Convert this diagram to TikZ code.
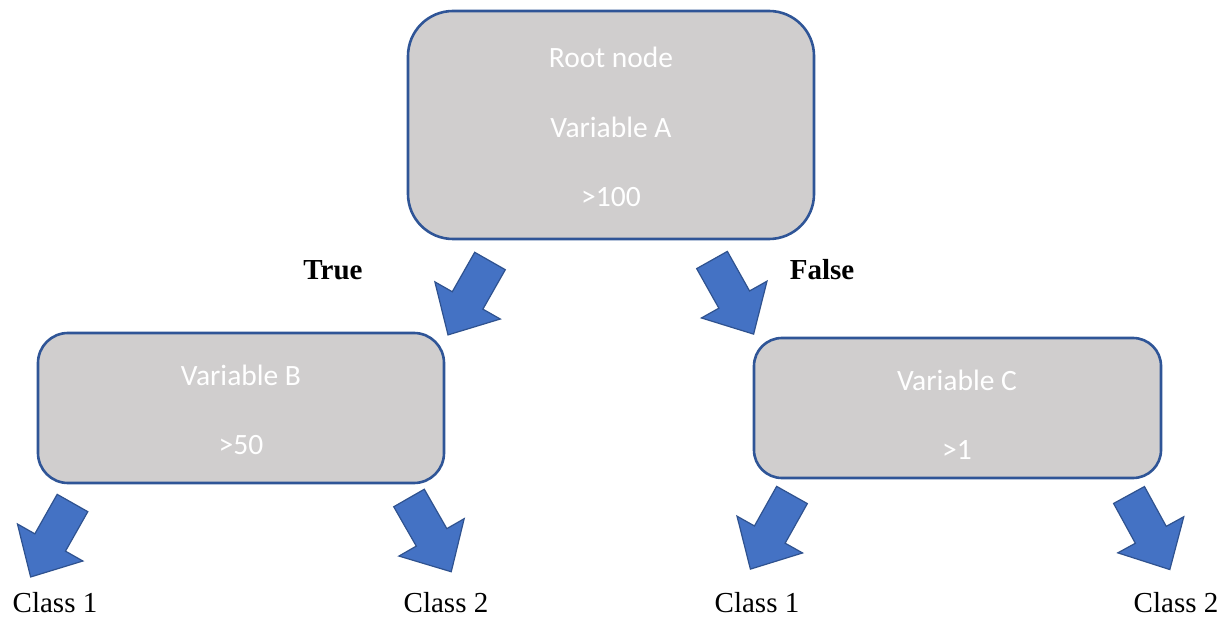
\documentclass[tikz,border=0pt]{standalone}
\usepackage{fontspec}
\setmainfont{Liberation Serif}
\newfontfamily\boxfont{Carlito}
\usetikzlibrary{shapes.arrows}
\definecolor{boxfill}{HTML}{D0CECE}
\definecolor{boxline}{HTML}{2F5597}
\definecolor{arrowfill}{HTML}{4472C4}
\definecolor{arrowline}{HTML}{2F528F}
\tikzset{
  treebox/.style={draw=boxline, fill=boxfill, line width=2.6pt, inner sep=0pt},
  boxtext/.style={text=white, font=\boxfont\fontsize{29.5}{35}\selectfont, inner sep=0pt},
  blockarrow/.style={single arrow, draw=arrowline, fill=arrowfill, line width=1.2pt,
    minimum height=85pt, minimum width=74pt, single arrow head extend=20pt,
    single arrow tip angle=87, single arrow head indent=0pt,
    inner xsep=0pt, inner ysep=17pt, text height=0pt, text depth=0pt,
    outer sep=0pt, anchor=tail},
  branchlabel/.style={font=\bfseries\fontsize{29}{34}\selectfont, inner sep=0pt},
  leaflabel/.style={font=\fontsize{29}{34}\selectfont, inner sep=0pt}
}
\begin{document}
\begin{tikzpicture}[x=1pt,y=-1pt]
\useasboundingbox[fill=white] (0,0) rectangle (1228,617);

% decision boxes
\node[treebox, rounded corners=45pt, minimum width=406pt, minimum height=228pt] (root) at (611,125) {};
\node[treebox, rounded corners=30pt, minimum width=406pt, minimum height=150pt] (varB) at (241,408) {};
\node[treebox, rounded corners=28pt, minimum width=407pt, minimum height=140pt] (varC) at (957.5,408) {};

% box texts
\node[boxtext] (rootT1) at (611,57) {Root node};
\node[boxtext] (rootT2) at (611,127) {Variable A};
\node[boxtext] (rootT3) at (611,197) {>100};
\node[boxtext] (varBT1) at (241,375) {Variable B};
\node[boxtext] (varBT2) at (241,445) {>50};
\node[boxtext] (varCT1) at (957,380) {Variable C};
\node[boxtext] (varCT2) at (957,450) {>1};

% branch arrows, placed by their tails
\node[blockarrow, rotate=240.4] (arrTrue) at (490,261) {};
\node[blockarrow, rotate=299.3] (arrFalse) at (712,260) {};
\node[blockarrow, rotate=240.5] (arrB1) at (72.5,503) {};
\node[blockarrow, rotate=299.8] (arrB2) at (409,498) {};
\node[blockarrow, rotate=240.7] (arrC1) at (792,495) {};
\node[blockarrow, rotate=298.7] (arrC2) at (1129,495) {};

% branch labels
\node[branchlabel] (lblTrue) at (333,270) {True};
\node[branchlabel] (lblFalse) at (822,270) {False};

% leaf classes
\node[leaflabel] (leafB1) at (55,603) {Class 1};
\node[leaflabel] (leafB2) at (446,603) {Class 2};
\node[leaflabel] (leafC1) at (757,603) {Class 1};
\node[leaflabel] (leafC2) at (1176,603) {Class 2};
\end{tikzpicture}
\end{document}
